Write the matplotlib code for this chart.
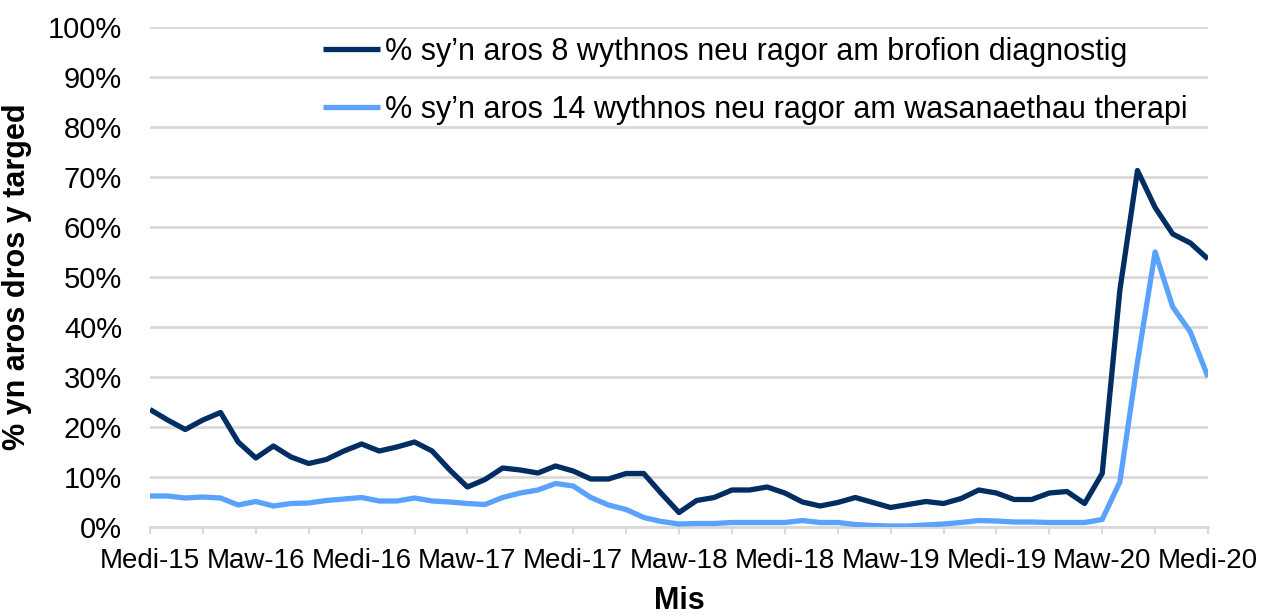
import matplotlib
matplotlib.use("Agg")
import matplotlib.pyplot as plt
from matplotlib.ticker import MultipleLocator, FuncFormatter, FixedLocator, FixedFormatter

plt.rcParams['font.family'] = ['Liberation Sans', 'DejaVu Sans']

# Monthly series, Medi-15 (Sep 2015) to Medi-20 (Sep 2020)
diagnostig = [23.5, 21.4, 19.5, 21.4, 22.9, 17.0, 13.8, 16.2, 14.0, 12.7,
              13.5, 15.2, 16.6, 15.2, 16.0, 17.0, 15.2, 11.4, 8.0, 9.5,
              11.8, 11.4, 10.8, 12.2, 11.2, 9.6, 9.6, 10.7, 10.7, 6.7,
              2.9, 5.3, 5.9, 7.4, 7.4, 8.0, 6.8, 5.0, 4.2, 4.9,
              5.9, 4.9, 3.9, 4.5, 5.1, 4.7, 5.7, 7.4, 6.8, 5.5,
              5.5, 6.8, 7.1, 4.7, 10.7, 47.3, 71.3, 63.9, 58.6, 56.8,
              53.6]
therapi = [6.2, 6.2, 5.8, 6.0, 5.8, 4.4, 5.1, 4.2, 4.7, 4.8,
           5.3, 5.6, 5.9, 5.2, 5.2, 5.8, 5.2, 5.0, 4.7, 4.5,
           5.9, 6.8, 7.4, 8.7, 8.2, 5.9, 4.4, 3.5, 1.9, 1.1,
           0.6, 0.7, 0.7, 0.9, 0.9, 0.9, 0.9, 1.3, 0.9, 0.9,
           0.5, 0.3, 0.2, 0.2, 0.4, 0.6, 0.9, 1.3, 1.2, 1.0,
           1.0, 0.9, 0.9, 0.9, 1.5, 9.0, 33.0, 55.0, 44.0, 39.0,
           30.0]
tick_labels = ['Medi-15', 'Maw-16', 'Medi-16', 'Maw-17', 'Medi-17', 'Maw-18',
               'Medi-18', 'Maw-19', 'Medi-19', 'Maw-20', 'Medi-20']
series_names = ["% sy\u2019n aros 8 wythnos neu ragor am brofion diagnostig",
                "% sy\u2019n aros 14 wythnos neu ragor am wasanaethau therapi"]

months = list(range(len(diagnostig)))

fig = plt.figure(figsize=(12.7, 6.15), dpi=100)
ax = fig.add_axes([150/1270, 1 - 527/615, (1208 - 150)/1270, 500/615])

dark = '#002d62'
light = '#5aa2fb'
ax.plot(months, diagnostig, color=dark, lw=3.8, solid_joinstyle='round',
        solid_capstyle='butt', label=series_names[0], zorder=3)
ax.plot(months, therapi, color=light, lw=3.8, solid_joinstyle='round',
        solid_capstyle='butt', label=series_names[1], zorder=3)

ax.set_xlim(0, len(months) - 1)
ax.set_ylim(0, 100)

grid_c = '#d9d9d9'
ax.yaxis.set_major_locator(MultipleLocator(10))
ax.yaxis.set_major_formatter(FuncFormatter(lambda v, p: f"{int(round(v))}%"))
ax.grid(axis='y', color=grid_c, lw=2, zorder=0)
ax.set_axisbelow(True)

label_pos = [i * 6 for i in range(len(tick_labels))]
ax.xaxis.set_major_locator(FixedLocator(label_pos))
ax.xaxis.set_major_formatter(FixedFormatter(tick_labels))
ax.xaxis.set_minor_locator(MultipleLocator(3))

for s in ['top', 'right', 'left']:
    ax.spines[s].set_visible(False)
ax.spines['bottom'].set_color(grid_c)
ax.spines['bottom'].set_linewidth(2)

ax.tick_params(axis='y', length=0, pad=20, labelsize=21, labelcolor='#000000')
ax.tick_params(axis='x', which='major', length=5, width=1.5, color=grid_c,
               pad=10, labelsize=20)
ax.tick_params(axis='x', which='minor', length=5, width=1.5, color=grid_c)

ax.set_xlabel('Mis', fontsize=22, fontweight='bold', labelpad=9)
ax.set_ylabel('% yn aros dros y targed', fontsize=22, fontweight='bold')
ax.yaxis.set_label_coords(-0.1115, 0.5)

leg = ax.legend(loc='upper left', bbox_to_anchor=(0.152, 1.005), frameon=False,
                fontsize=22, handlelength=1.85, handletextpad=0.18,
                labelspacing=0.91, borderaxespad=0)

fig.savefig('out.png', dpi=100)
